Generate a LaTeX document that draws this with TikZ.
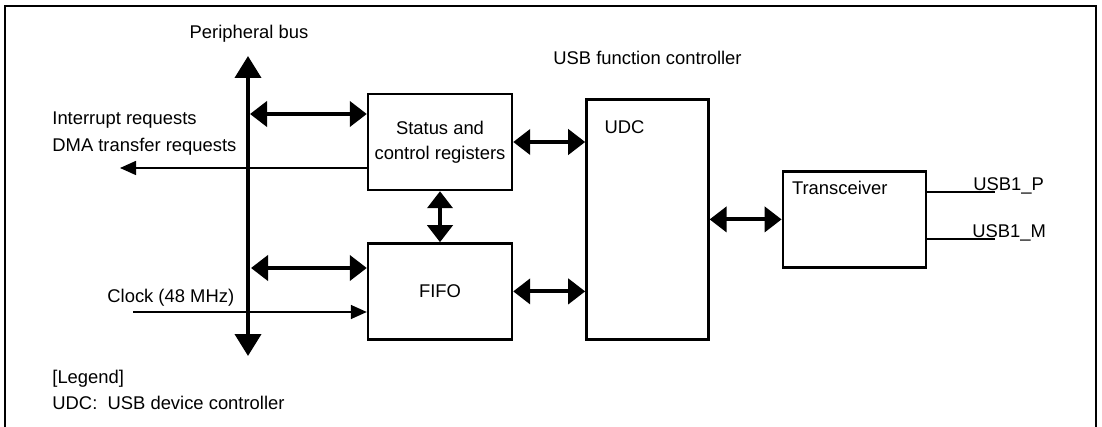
\documentclass[tikz,border=0pt]{standalone}
\usepackage{fontspec}
\setmainfont{Liberation Sans}
\usetikzlibrary{arrows.meta,positioning}
\tikzset{
  blk/.style={draw, line width=1.2pt, inner sep=0pt, align=center,
              font=\fontsize{9.2}{12.5}\selectfont},
  lbl/.style={inner sep=0pt, anchor=base west, font=\fontsize{9.2}{12.5}\selectfont},
  dbl/.style={{Triangle[length=8.5pt,width=12.5pt]}-{Triangle[length=8.5pt,width=12.5pt]},
              line width=2pt},
  thn/.style={-{Triangle[length=8pt,width=7pt]}, line width=0.75pt},
  bus/.style={{Triangle[length=11pt,width=13pt]}-{Triangle[length=11pt,width=13pt]},
              line width=2pt},
}

\begin{document}
\begin{tikzpicture}[x=0.5pt, y=-0.5pt]
  \useasboundingbox (0,0) rectangle (1102,427);
  \draw[line width=1.25pt] (5,427) -- (5,6) -- (1096,6) -- (1096,427);

  % blocks
  \node[blk, minimum width=72pt, minimum height=48pt] (st) at (440,142) {Status and\\control registers};
  \node[blk, minimum width=72pt, minimum height=48pt, below=25.5pt of st] (fifo) {FIFO};
  \node[blk, minimum width=61pt, minimum height=120pt, anchor=south west] (udc) at ([xshift=36pt]fifo.south east) {};
  \node[blk, minimum width=71.5pt, minimum height=48pt, right=36pt of udc] (tr) {};
  \node[lbl] (udct) at ([shift={(19,35)}]udc.north west) {UDC};
  \node[lbl] (trt) at ([shift={(10,24)}]tr.north west) {Transceiver};
  \node[lbl] (ufc) at (553,65) {USB function controller};

  % peripheral bus
  \coordinate (busT) at (248,56);
  \coordinate (busB) at (248,356);
  \draw[bus] (busB) -- (busT);
  \node[lbl, anchor=base] (pb) at (249,39) {Peripheral bus};

  % data paths
  \coordinate (bs) at (250,114);
  \coordinate (bf) at (251,268);
  \draw[dbl] (bs) -- (bs -| st.west);
  \draw[dbl] (bf) -- (bf -| fifo.west);
  \draw[dbl] (st.east) -- (st.east -| udc.west);
  \draw[dbl] (fifo.east) -- (fifo.east -| udc.west);
  \draw[dbl] (st) -- (fifo);
  \draw[dbl] (udc.east |- tr.west) -- (tr.west);

  % side signals
  \coordinate (irq) at (120,168);
  \coordinate (clk) at (133,312);
  \draw[thn] (st.west |- irq) -- (irq);
  \draw[thn] (clk) -- (clk -| fifo.west);
  \node[lbl] (irqt) at (52,125) {Interrupt requests};
  \node[lbl] (dmat) at (52,152) {DMA transfer requests};
  \node[lbl] (clkt) at (107,302) {Clock (48 MHz)};

  % USB pins
  \coordinate (up) at (995,192);
  \coordinate (um) at (995,239);
  \draw[line width=0.75pt] (tr.east |- up) -- (up);
  \draw[line width=0.75pt] (tr.east |- um) -- (um);
  \node[lbl] (upt) at (973,191) {USB1\_P};
  \node[lbl] (umt) at (972,238) {USB1\_M};

  % legend
  \node[lbl] (lg) at (52,383) {[Legend]};
  \node[lbl] (lgu) at (52,409) {UDC:\ \ USB device controller};
\end{tikzpicture}
\end{document}
